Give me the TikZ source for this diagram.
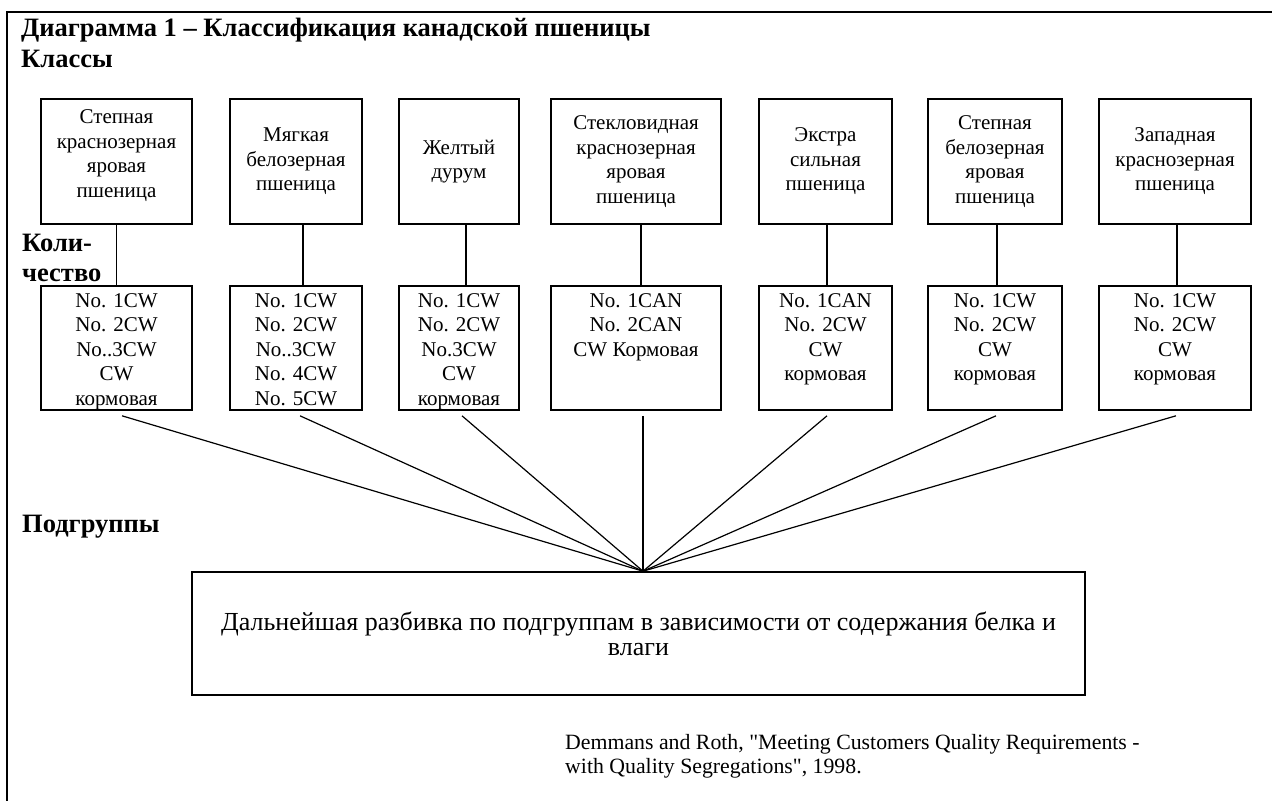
\documentclass[tikz,border=0pt]{standalone}
\usepackage{fontspec}
\setmainfont{Liberation Serif}[Ligatures=TeXOff]
\begin{document}
\begin{tikzpicture}[x=1pt,y=-1pt,
  box/.style={draw, line width=1.6pt, inner sep=0pt},
  txt/.style={align=center, font=\fontsize{21}{24.5}\selectfont, inner sep=0pt},
  hd/.style={anchor=west, font=\fontsize{26.5}{30}\selectfont\bfseries, inner sep=0pt, align=left},
  link/.style={line width=1.4pt},
  fan/.style={line width=1.2pt}]
\useasboundingbox (0,0) rectangle (1272,801);
\draw[line width=1.6pt] (1272,12) -- (7,12) -- (7,801);

% headings
\node[hd] (title) at (21,30) {Диаграмма 1 – Классификация канадской пшеницы};
\node[hd] (klassy) at (21,59) {Классы};
\node[hd] (kol) at (22,258) {Коли-\\чество};
\node[hd] (podgr) at (22,527) {Подгруппы};

% class boxes
\node[box, minimum width=151pt, minimum height=125pt] (c1) at (116.5,161.5) {};
\node[box, minimum width=132pt, minimum height=125pt] (c2) at (296,161.5) {};
\node[box, minimum width=120pt, minimum height=125pt] (c3) at (459,161.5) {};
\node[box, minimum width=170pt, minimum height=125pt] (c4) at (636,161.5) {};
\node[box, minimum width=133pt, minimum height=125pt] (c5) at (825.5,161.5) {};
\node[box, minimum width=134pt, minimum height=125pt] (c6) at (995,161.5) {};
\node[box, minimum width=152pt, minimum height=125pt] (c7) at (1175,161.5) {};

\node[txt] (ct1) at ([yshift=6pt]c1.center) {Степная\\краснозерная\\яровая\\пшеница};
\node[txt] (ct2) at (c2.center) {Мягкая\\белозерная\\пшеница};
\node[txt] (ct3) at (c3.center) {Желтый\\дурум};
\node[txt] (ct4) at (c4.center) {Стекловидная\\краснозерная\\яровая\\пшеница};
\node[txt] (ct5) at (c5.center) {Экстра\\сильная\\пшеница};
\node[txt] (ct6) at (c6.center) {Степная\\белозерная\\яровая\\пшеница};
\node[txt] (ct7) at (c7.center) {Западная\\краснозерная\\пшеница};

% grade boxes
\node[box, minimum width=151pt, minimum height=124pt] (q1) at (116.5,348) {};
\node[box, minimum width=132pt, minimum height=124pt] (q2) at (296,348) {};
\node[box, minimum width=120pt, minimum height=124pt] (q3) at (459,348) {};
\node[box, minimum width=170pt, minimum height=124pt] (q4) at (636,348) {};
\node[box, minimum width=133pt, minimum height=124pt] (q5) at (825.5,348) {};
\node[box, minimum width=134pt, minimum height=124pt] (q6) at (995,348) {};
\node[box, minimum width=152pt, minimum height=124pt] (q7) at (1175,348) {};

\node[txt, anchor=north] (qt1) at ([yshift=-8pt]q1.north) {No. 1CW\\No. 2CW\\No..3CW\\CW\\кормовая};
\node[txt, anchor=north] (qt2) at ([yshift=-8pt]q2.north) {No. 1CW\\No. 2CW\\No..3CW\\No. 4CW\\No. 5CW};
\node[txt, anchor=north] (qt3) at ([yshift=-8pt]q3.north) {No. 1CW\\No. 2CW\\No.3CW\\CW\\кормовая};
\node[txt, anchor=north] (qt4) at ([yshift=-8pt]q4.north) {No. 1CAN\\No. 2CAN\\CW Кормовая};
\node[txt, anchor=north] (qt5) at ([yshift=-8pt]q5.north) {No. 1CAN\\No. 2CW\\CW\\кормовая};
\node[txt, anchor=north] (qt6) at ([yshift=-8pt]q6.north) {No. 1CW\\No. 2CW\\CW\\кормовая};
\node[txt, anchor=north] (qt7) at ([yshift=-8pt]q7.north) {No. 1CW\\No. 2CW\\CW\\кормовая};

% connectors class -> grade
\draw[link] (c1.south) -- (q1.north);
\draw[link] ([xshift=7pt]c2.south) -- ([xshift=7pt]q2.north);
\draw[link] ([xshift=7pt]c3.south) -- ([xshift=7pt]q3.north);
\draw[link] ([xshift=5pt]c4.south) -- ([xshift=5pt]q4.north);
\draw[link] ([xshift=1.5pt]c5.south) -- ([xshift=1.5pt]q5.north);
\draw[link] ([xshift=2pt]c6.south) -- ([xshift=2pt]q6.north);
\draw[link] ([xshift=2pt]c7.south) -- ([xshift=2pt]q7.north);

% subgroup box
\node[box, minimum width=893pt, minimum height=123pt, txt, draw,
      font=\fontsize{26}{25}\selectfont] (sub) at (638.5,633.5)
  {Дальнейшая разбивка по подгруппам в зависимости от содержания белка и\\влаги};
\coordinate (apex) at ([xshift=4.5pt]sub.north);

% fan
\draw[fan] ([xshift=5.5pt,yshift=-5pt]q1.south) -- (apex);
\draw[fan] ([xshift=4pt,yshift=-5pt]q2.south) -- (apex);
\draw[fan] ([xshift=3pt,yshift=-5pt]q3.south) -- (apex);
\draw[fan] ([xshift=7pt,yshift=-5pt]q4.south) -- (apex);
\draw[fan] ([xshift=1.5pt,yshift=-5pt]q5.south) -- (apex);
\draw[fan] ([xshift=1pt,yshift=-5pt]q6.south) -- (apex);
\draw[fan] ([xshift=1pt,yshift=-5pt]q7.south) -- (apex);

% citation
\node[txt, anchor=north west, align=left, font=\fontsize{21.8}{24.5}\selectfont] (cite) at (565,734)
  {Demmans and Roth, "Meeting Customers Quality Requirements -\\with Quality Segregations", 1998.};
\end{tikzpicture}
\end{document}
